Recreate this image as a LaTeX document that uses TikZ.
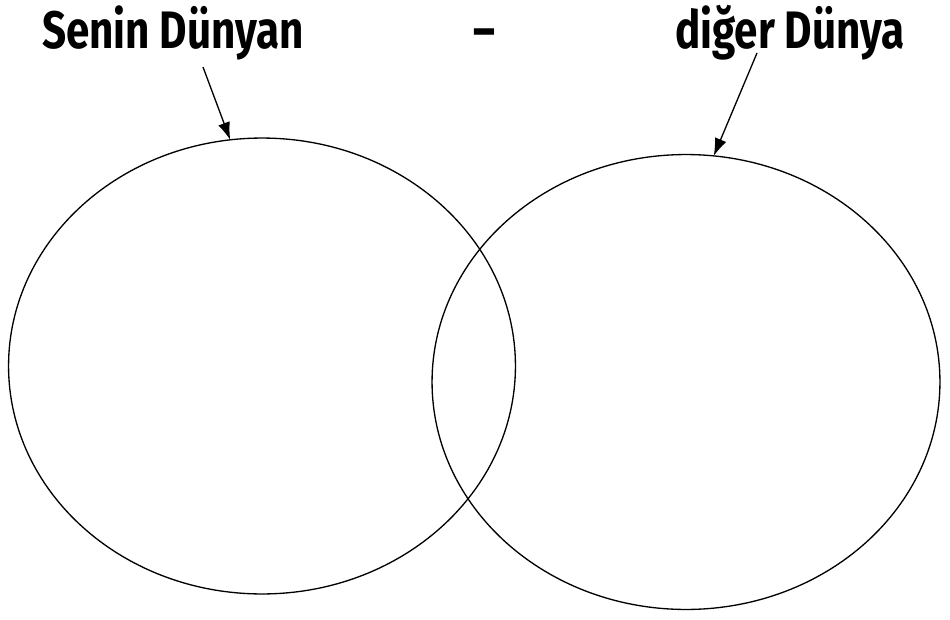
\documentclass[tikz,border=0pt]{standalone}
\usepackage{fontspec}
\newfontfamily\handfont[FakeStretch=0.8]{Fira Sans}
\usetikzlibrary{shapes.geometric,arrows.meta}

\begin{document}
\begin{tikzpicture}[x=0.02cm, y=-0.02cm, >={Latex[length=10pt,width=7pt]},
  world/.style={ellipse, draw, line width=0.75pt, inner sep=0pt, outer sep=0pt},
  title/.style={font=\handfont\bfseries\fontsize{30}{36}\selectfont, inner sep=0pt, anchor=base}]
  \useasboundingbox (0,0) rectangle (950,619);
  % iki dünya
  \node[world, minimum width=10.14cm, minimum height=9.12cm] (sen)   at (262,366) {};
  \node[world, minimum width=10.16cm, minimum height=9.10cm] (diger) at (686,382) {};
  % başlıklar
  \node[title] (senT)   at (173,48) {Senin Dünyan};
  \node[title] (tire)   at (484,48) {–};
  \node[title] (digerT) at (790,48) {diğer Dünya};
  % oklar
  \coordinate (senOk)   at (203,67);
  \coordinate (digerOk) at (757,53);
  \draw[->, line width=0.75pt] (senOk)   -- (sen.98);
  \draw[->, line width=0.75pt] (digerOk) -- (diger.83);
\end{tikzpicture}
\end{document}
